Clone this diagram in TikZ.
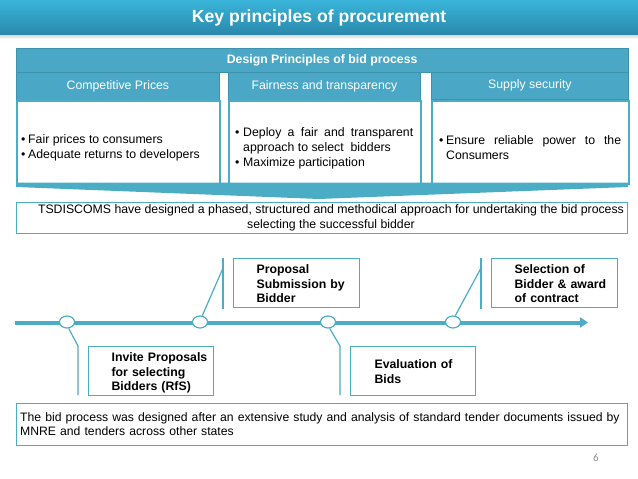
\documentclass[tikz,border=0pt]{standalone}
\usepackage{fontspec}
\setmainfont{Liberation Sans}
\newfontfamily\pagefont{Carlito}
\usetikzlibrary{shapes.geometric,arrows.meta}
\definecolor{tealA}{HTML}{4BACC6}
\definecolor{tealB}{HTML}{3D93AE}
\definecolor{hdrfill}{HTML}{4AA7C5}
\definecolor{titletop}{HTML}{3AB4DA}
\definecolor{titlebot}{HTML}{2A8AAD}
\definecolor{pagegray}{HTML}{8C8C8C}
\newcommand{\bitem}[2][7pt]{\par\noindent\hangindent=#1\hangafter=1\makebox[#1][l]{\textbullet}#2\par}
\newcommand{\boxlines}[2][23pt]{\raisebox{-2pt}[\height][\depth]{\begin{tabular}{@{\hspace{#1}}l@{}}#2\end{tabular}}}
\begin{document}
\begin{tikzpicture}[x=1pt,y=-1pt,font=\fontsize{12.3}{15}\selectfont,
  hdr/.style={draw=tealB,fill=hdrfill,line width=0.8pt,text=white,anchor=north west,inner sep=0pt,minimum height=28pt},
  cbox/.style={draw=tealA,fill=white,line width=1.5pt,anchor=north west,inner sep=0pt,minimum height=83pt},
  ctext/.style={anchor=west,inner sep=0pt,align=justify},
  wide/.style={draw=tealA,fill=white,line width=1.3pt,anchor=north west,inner sep=0pt},
  tbox/.style={draw=tealA,fill=white,line width=1.2pt,anchor=north west,inner sep=0pt,minimum height=49pt,align=left,font=\fontsize{12.3}{14.7}\selectfont\bfseries},
  dot/.style={ellipse,draw=tealA,fill=white,line width=1.2pt,minimum width=15pt,minimum height=12pt,inner sep=0pt},
  callout/.style={draw=tealA,line width=1.2pt}]
\useasboundingbox (0,0) rectangle (638,479);
% title bar
\shade[top color=gray!45,bottom color=white] (0,33) rectangle (638,39);
\shade[top color=titletop,bottom color=titlebot] (0,0) rectangle (638,34);
\node[text=white,font=\fontsize{17.6}{20}\selectfont\bfseries] (title) at (319,18) {Key principles of procurement};
% design principles bar
\node[hdr,minimum width=611.5pt,minimum height=24.5pt,font=\fontsize{12.3}{15}\selectfont\bfseries] (design) at (16,47.5) {Design Principles of bid process};
% headers
\node[hdr,minimum width=203pt] (h1) at (16,72) {Competitive Prices};
\node[hdr,minimum width=192pt] (h2) at (228,72) {Fairness and transparency};
\node[hdr,minimum width=197pt,minimum height=27pt] (h3) at (431,71.5) {Supply security};
% content boxes
\node[cbox,minimum width=203pt] (b1) at (16,100) {};
\node[cbox,minimum width=192pt] (b2) at (228,100) {};
\node[cbox,minimum width=197pt] (b3) at (431,100) {};
\node[ctext,text width=195pt] (t1) at (21,144.5) {\bitem{Fair prices to consumers}\bitem{Adequate returns to developers}};
\node[ctext,text width=178pt] (t2) at (235,145) {\bitem[8pt]{Deploy a fair and transparent\linebreak approach to select\ \ bidders}\bitem[8pt]{Maximize participation}};
\node[ctext,text width=182pt] (t3) at (439,144.5) {\bitem{Ensure reliable power to the\linebreak Consumers}};
% chevron band
\fill[tealA] (16,182.5) -- (628,182.5) -- (628,187) -- (319,199) -- (16,187) -- cycle;
% TSDISCOMS box
\node[wide,minimum width=611pt,minimum height=31pt] (tsd) at (16,202) {};
\node[align=center,inner sep=0pt,font=\fontsize{12.3}{15}\selectfont] (tsdtext) at (331,217.5) {TSDISCOMS have designed a phased, structured and methodical approach for undertaking the bid process\\selecting the successful bidder};
% timeline
\coordinate (tl0) at (15,322.5);
\coordinate (tl1) at (588,322.5);
\draw[tealA,line width=4pt,-{Triangle[length=8pt,width=10pt]}] (tl0) -- (tl1);
\node[dot] (c1) at (67,322) {};
\node[dot] (c2) at (200,322) {};
\node[dot] (c3) at (328,322) {};
\node[dot] (c4) at (453,322) {};
% callout lines
\coordinate (k1) at (78,346); \coordinate (k1b) at (78,395);
\coordinate (k2) at (223,268); \coordinate (k2t) at (223,258); \coordinate (k2b) at (223,309);
\coordinate (k3) at (340,346); \coordinate (k3b) at (340,395);
\coordinate (k4) at (481,268); \coordinate (k4t) at (481,258); \coordinate (k4b) at (481,309);
\draw[callout] (c1.-75) -- (k1) -- (k1b);
\draw[callout] (c2.70) -- (k2);
\draw[callout] (k2t) -- (k2b);
\draw[callout] (c3.-75) -- (k3) -- (k3b);
\draw[callout] (c4.70) -- (k4);
\draw[callout] (k4t) -- (k4b);
% callout boxes
\node[tbox,minimum width=125pt,text width=125pt] (p1) at (88,346) {\boxlines{Invite Proposals\\for selecting\\Bidders (RfS)}};
\node[tbox,minimum width=126pt,text width=126pt] (p2) at (233,258) {\boxlines{Proposal\\Submission by\\Bidder}};
\node[tbox,minimum width=125pt,text width=125pt] (p3) at (350,346) {\boxlines[24pt]{Evaluation of\\Bids}};
\node[tbox,minimum width=126pt,text width=126pt] (p4) at (491,258) {\boxlines{Selection of\\Bidder \& award\\of contract}};
% bottom box
\node[wide,minimum width=611pt,minimum height=42pt] (bottom) at (16,403) {};
\node[anchor=west,inner sep=0pt,text width=612pt,align=left,font=\fontsize{12.2}{14.5}\selectfont] (bottomtext) at (20,424) {The bid process was designed after an extensive study and analysis of standard tender documents issued by\\MNRE and tenders across other states};
% page number
\node[text=pagegray,font=\pagefont\fontsize{11}{13}\selectfont] (pnum) at (596,458) {6};
\end{tikzpicture}
\end{document}
